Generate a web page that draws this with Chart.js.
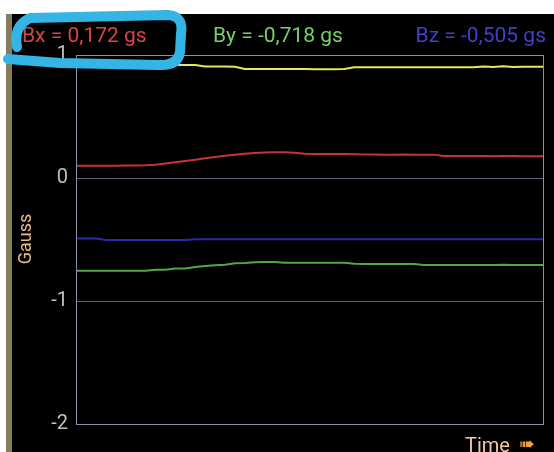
<!DOCTYPE html>
<html>
<head>
<meta charset="utf-8">
<script src="https://cdn.jsdelivr.net/npm/chart.js@4/dist/chart.umd.min.js"></script>
<style>
  html, body { margin: 0; padding: 0; background: #000; }
  canvas { display: block; }
</style>
</head>
<body>
<canvas id="grafico" width="554" height="452"></canvas>
<script>
// samples along the time axis
const samples = ["", "", "", "", "", "", "", "", "", "", "", "", "", "", "", "", "", "", "", "", "", "", "", "",
                 "", "", "", "", "", "", "", "", "", "", "", "", "", "", "", "", "", "", "", "", "", "", "", ""];

const bTotal = [0.919, 0.919, 0.919, 0.919, 0.919, 0.919, 0.919, 0.919, 0.919, 0.919, 0.919, 0.919,
                0.919, 0.907, 0.907, 0.907, 0.905, 0.886, 0.886, 0.886, 0.886, 0.886, 0.886, 0.886,
                0.885, 0.885, 0.885, 0.886, 0.900, 0.900, 0.900, 0.900, 0.900, 0.900, 0.900, 0.900,
                0.900, 0.900, 0.900, 0.900, 0.900, 0.907, 0.903, 0.908, 0.902, 0.905, 0.905, 0.905];

const bx = [0.100, 0.100, 0.100, 0.100, 0.100, 0.101, 0.102, 0.104, 0.108, 0.118, 0.128, 0.138,
            0.149, 0.160, 0.171, 0.181, 0.189, 0.197, 0.203, 0.208, 0.210, 0.210, 0.205, 0.198,
            0.196, 0.196, 0.195, 0.195, 0.194, 0.191, 0.191, 0.190, 0.190, 0.191, 0.190, 0.190,
            0.190, 0.179, 0.178, 0.178, 0.178, 0.178, 0.177, 0.178, 0.178, 0.177, 0.177, 0.177];

const by = [-0.754, -0.754, -0.754, -0.754, -0.754, -0.754, -0.754, -0.754, -0.746, -0.746, -0.735, -0.735,
            -0.724, -0.716, -0.710, -0.705, -0.694, -0.692, -0.684, -0.683, -0.683, -0.690, -0.690, -0.689,
            -0.689, -0.689, -0.689, -0.690, -0.698, -0.699, -0.699, -0.699, -0.699, -0.699, -0.699, -0.707,
            -0.707, -0.707, -0.707, -0.707, -0.707, -0.707, -0.707, -0.706, -0.707, -0.707, -0.707, -0.707];

const bz = [-0.492, -0.492, -0.492, -0.504, -0.504, -0.504, -0.504, -0.504, -0.504, -0.504, -0.504, -0.504,
            -0.498, -0.498, -0.498, -0.498, -0.498, -0.498, -0.498, -0.498, -0.498, -0.498, -0.498, -0.498,
            -0.498, -0.498, -0.498, -0.498, -0.498, -0.498, -0.498, -0.498, -0.498, -0.498, -0.498, -0.498,
            -0.498, -0.498, -0.498, -0.498, -0.498, -0.498, -0.498, -0.498, -0.498, -0.498, -0.498, -0.498];

const yTicks = [1, 0, -1, -2];
const readouts = ["Bx = 0,172 gs", "By = -0,718 gs", "Bz = -0,505 gs"];

const decor = {
  id: "decor",
  beforeDraw(chart) {
    const c = chart.ctx;
    c.save();
    c.fillStyle = "#000";
    c.fillRect(0, 0, chart.width, chart.height);
    c.fillStyle = "#fff";
    c.fillRect(0, 0, chart.width, 14);
    c.fillRect(0, 0, 6, chart.height);
    c.fillStyle = "#857c5c";
    c.fillRect(6, 14, 6, chart.height - 14);
    c.restore();
  },
  afterDraw(chart) {
    const c = chart.ctx;
    const a = chart.chartArea;
    c.save();
    c.strokeStyle = "#8a90a8";
    c.lineWidth = 1;
    c.strokeRect(a.left + 0.5, a.top + 0.5, a.right - a.left, a.bottom - a.top);

    c.textBaseline = "middle";
    c.font = "21px Roboto";
    c.fillStyle = "#d84545";
    c.textAlign = "left";
    c.fillText(readouts[0], 22, 37);
    c.fillStyle = "#78d068";
    c.fillText(readouts[1], 213, 37);
    c.fillStyle = "#4040c8";
    c.textAlign = "right";
    c.fillText(readouts[2], 546, 37);

    // axis title
    c.save();
    c.translate(26, 239);
    c.rotate(-Math.PI / 2);
    c.textAlign = "center";
    c.font = "18px Roboto";
    c.fillStyle = "#e8b888";
    c.fillText("Gauss", 0, 0);
    c.restore();

    c.textAlign = "left";
    c.textBaseline = "alphabetic";
    c.font = "20px Roboto";
    c.fillStyle = "#f2c8a0";
    c.fillText("Time", 465, 452);
    c.font = "19px 'DejaVu Sans'";
    c.fillStyle = "#f0a040";
    c.fillText("\u27A0", 519, 450);

    // hand drawn highlight
    c.strokeStyle = "#35b5e5";
    c.lineWidth = 10;
    c.lineCap = "round";
    c.lineJoin = "round";
    c.beginPath();
    c.moveTo(17, 47);
    c.quadraticCurveTo(13, 26, 30, 18);
    c.lineTo(168, 15);
    c.quadraticCurveTo(184, 16, 181, 34);
    c.lineTo(180, 52);
    c.quadraticCurveTo(178, 66, 158, 65);
    c.lineTo(60, 63);
    c.lineTo(8, 59);
    c.stroke();
    c.restore();
  }
};

let ctx = document.getElementById("grafico").getContext("2d");

new Chart(ctx, {
  type: "line",
  data: {
    labels: samples,
    datasets: [
      { label: "B", data: bTotal, borderColor: "#e6e660", borderWidth: 2, pointRadius: 0, tension: 0 },
      { label: "Bx", data: bx, borderColor: "#c83434", borderWidth: 2, pointRadius: 0, tension: 0 },
      { label: "By", data: by, borderColor: "#52a844", borderWidth: 2, pointRadius: 0, tension: 0 },
      { label: "Bz", data: bz, borderColor: "#2a2aa8", borderWidth: 2, pointRadius: 0, tension: 0 },
    ],
  },
  options: {
    responsive: false,
    animation: false,
    layout: { padding: { top: 55, bottom: 28, right: 11, left: 0 } },
    plugins: { legend: { display: false }, tooltip: { enabled: false } },
    scales: {
      x: { display: false },
      y: {
        min: -2,
        max: 1,
        afterFit(scale) { scale.width = 76; },
        afterBuildTicks(scale) { scale.ticks = yTicks.map(v => ({ value: v })); },
        border: { display: false },
        grid: { color: "#5c6070", drawTicks: false },
        ticks: { color: "#c0c0c0", padding: 8, font: { size: 20, family: "Roboto" } },
      },
    },
  },
  plugins: [decor],
});
</script>
</body>
</html>
